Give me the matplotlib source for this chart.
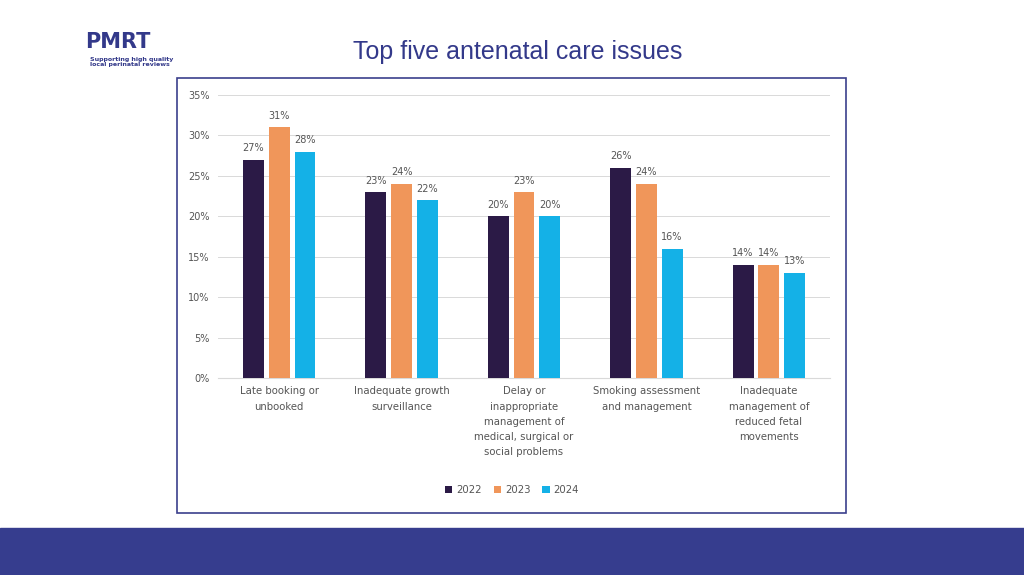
import matplotlib
matplotlib.use("Agg")
import matplotlib.pyplot as plt
from matplotlib.patches import Rectangle
import numpy as np

categories = ["Late booking or\nunbooked", "Inadequate growth\nsurveillance",
              "Delay or\ninappropriate\nmanagement of\nmedical, surgical or\nsocial problems",
              "Smoking assessment\nand management",
              "Inadequate\nmanagement of\nreduced fetal\nmovements"]
years = ["2022", "2023", "2024"]
v2022 = [27, 23, 20, 26, 14]
v2023 = [31, 24, 23, 24, 14]
v2024 = [28, 22, 20, 16, 13]
colors = ["#2b1a46", "#f0965a", "#14b1e7"]
yticks = [0, 5, 10, 15, 20, 25, 30, 35]

fig = plt.figure(figsize=(10.24, 5.75), dpi=100)
fig.patch.set_facecolor("white")
fig.add_artist(Rectangle((0, 0), 1, 47/575, transform=fig.transFigure, color="#363d8e", zorder=0))
fig.add_artist(Rectangle((177/1024, 1-513/575), (846-177)/1024, (513-78)/575,
                         transform=fig.transFigure, fill=False, edgecolor="#3b3f8c", lw=1.2))
fig.text(518/1024, 1-52/575, "Top five antenatal care issues", ha="center", va="center",
         fontsize=18, color="#33398a", family="Liberation Sans")
fig.text(85/1024, 1-42/575, "PMRT", ha="left", va="center", fontsize=15, fontweight="bold", color="#33398a")
fig.text(90/1024, 1-62/575, "Supporting high quality\nlocal perinatal reviews", ha="left", va="center",
         fontsize=4.5, fontweight="bold", color="#33398a", linespacing=1.0)

ax = fig.add_axes([218/1024, 1-378/575, 612/1024, 283/575])
x = np.arange(len(categories))
w = 0.17
off = 0.21
for i, (vals, c) in enumerate(zip([v2022, v2023, v2024], colors)):
    bars = ax.bar(x + (i-1)*off, vals, w, color=c, label=years[i], zorder=3)
    for b, v in zip(bars, vals):
        ax.text(b.get_x()+b.get_width()/2, v+0.8, f"{v}%", ha="center", va="bottom",
                fontsize=7, color="#555555")
ax.set_ylim(0, 35)
ax.set_xlim(-0.5, 4.5)
ax.set_yticks(yticks)
ax.set_yticklabels([f"{t}%" for t in yticks], fontsize=7, color="#555555")
ax.set_xticks(x)
ax.set_xticklabels(categories, fontsize=7.3, color="#555555", linespacing=1.65)
ax.tick_params(length=0, pad=6)
ax.grid(axis="y", color="#d9d9d9", lw=0.7, zorder=0)
for s in ["top", "right", "left"]:
    ax.spines[s].set_visible(False)
ax.spines["bottom"].set_color("#d9d9d9")
fig.legend(loc="center", bbox_to_anchor=(512/1024, 1-490/575), ncol=3, frameon=False,
           fontsize=7.3, handlelength=0.7, handleheight=0.7, columnspacing=1.2, handletextpad=0.4,
           labelcolor="#555555")
fig.savefig("out.png", dpi=100)
